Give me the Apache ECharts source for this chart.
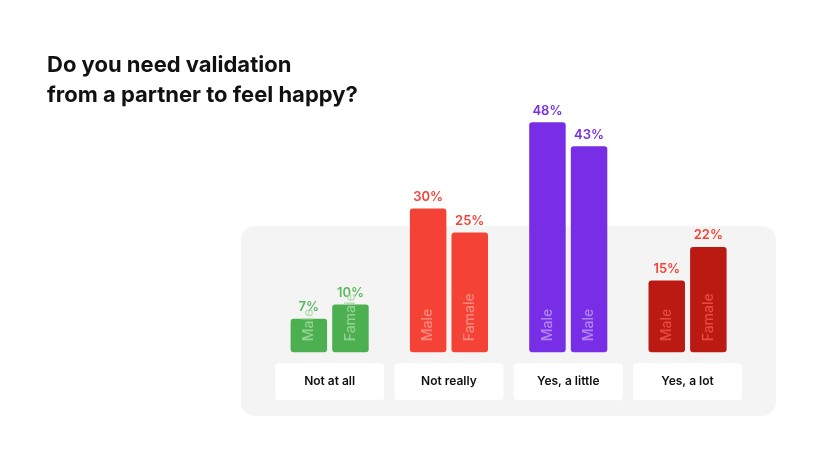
<!DOCTYPE html>
<html>
<head>
<meta charset="utf-8">
<script src="https://cdn.jsdelivr.net/npm/echarts@6/dist/echarts.min.js"></script>
<style>
  html, body { margin: 0; padding: 0; background: #fff; }
  #chart { width: 820px; height: 462px; }
</style>
</head>
<body>
<div id="chart"></div>
<script>
// data
var categories = ['Not at all', 'Not really', 'Yes, a little', 'Yes, a lot']
var maleValues = [7, 30, 48, 15]
var femaleValues = [10, 25, 43, 22]
var maleTags = ['Male', 'Male', 'Male', 'Male']
var femaleTags = ['Famale', 'Famale', 'Male', 'Famale']

var barColors = ['#4caf50', '#f44336', '#772ee6', '#bb1a12']
var valueColors = ['#5cb85c', '#f44336', '#772ee6', '#f44336']
var tagColors = ['rgba(165,220,165,0.8)', 'rgba(252,160,150,0.75)', 'rgba(195,155,248,0.8)', 'rgba(242,88,76,0.8)']

var font = 'Inter, "Open Sans", sans-serif'

function buildSeries (name, values) {
  return {
    name: name,
    type: 'bar',
    barWidth: 36.5,
    barGap: '14%',
    itemStyle: { borderRadius: 3 },
    label: {
      show: true,
      position: 'top',
      distance: 5,
      fontFamily: font,
      fontSize: 13,
      fontWeight: 600,
      formatter: '{c}%'
    },
    data: values.map(function (v, i) {
      return {
        value: v,
        itemStyle: { color: barColors[i] },
        label: { color: valueColors[i] }
      }
    })
  }
}

// second layer: rotated tag inside each bar, on a hidden twin axis
function buildTagSeries (values, tags) {
  return {
    type: 'bar',
    xAxisIndex: 1,
    barWidth: 36.5,
    barGap: '14%',
    silent: true,
    z: 3,
    itemStyle: { color: 'transparent' },
    label: {
      show: true,
      position: ['50%', '100%'],
      rotate: 90,
      align: 'left',
      verticalAlign: 'middle',
      padding: [0, 0, 0, 11],
      fontFamily: font,
      fontSize: 14,
      fontWeight: 500,
      formatter: function (p) { return tags[p.dataIndex] }
    },
    labelLayout: { hideOverlap: false },
    data: values.map(function (v, i) {
      return { value: v, label: { color: tagColors[i] } }
    })
  }
}

var chart = echarts.init(document.getElementById('chart'))

chart.setOption({
  animation: false,
  title: {
    text: 'Do you need validation\nfrom a partner to feel happy?',
    left: 47,
    top: 50,
    padding: 0,
    textStyle: {
      fontFamily: font,
      fontSize: 22,
      fontWeight: 700,
      lineHeight: 30,
      color: '#111'
    }
  },
  graphic: [{
    type: 'rect',
    z: -10,
    shape: { x: 241, y: 226, width: 535, height: 190, r: 14 },
    style: { fill: '#f4f4f4' }
  }],
  grid: {
    left: 270,
    right: 72.8,
    top: 112.7,
    bottom: 109.7
  },
  xAxis: [{
    type: 'category',
    data: categories,
    axisLine: { show: false },
    axisTick: { show: false },
    axisLabel: {
      margin: 11,
      width: 109,
      height: 37,
      lineHeight: 37,
      align: 'center',
      verticalAlign: 'top',
      backgroundColor: '#fff',
      borderRadius: 4,
      fontFamily: font,
      fontSize: 12,
      fontWeight: 600,
      color: '#111'
    }
  }, {
    type: 'category',
    data: categories,
    show: false
  }],
  yAxis: {
    type: 'value',
    min: 0,
    max: 50,
    show: false,
    splitLine: { show: false }
  },
  series: [
    buildSeries('Male', maleValues),
    buildSeries('Famale', femaleValues),
    buildTagSeries(maleValues, maleTags),
    buildTagSeries(femaleValues, femaleTags)
  ]
})
</script>
</body>
</html>
